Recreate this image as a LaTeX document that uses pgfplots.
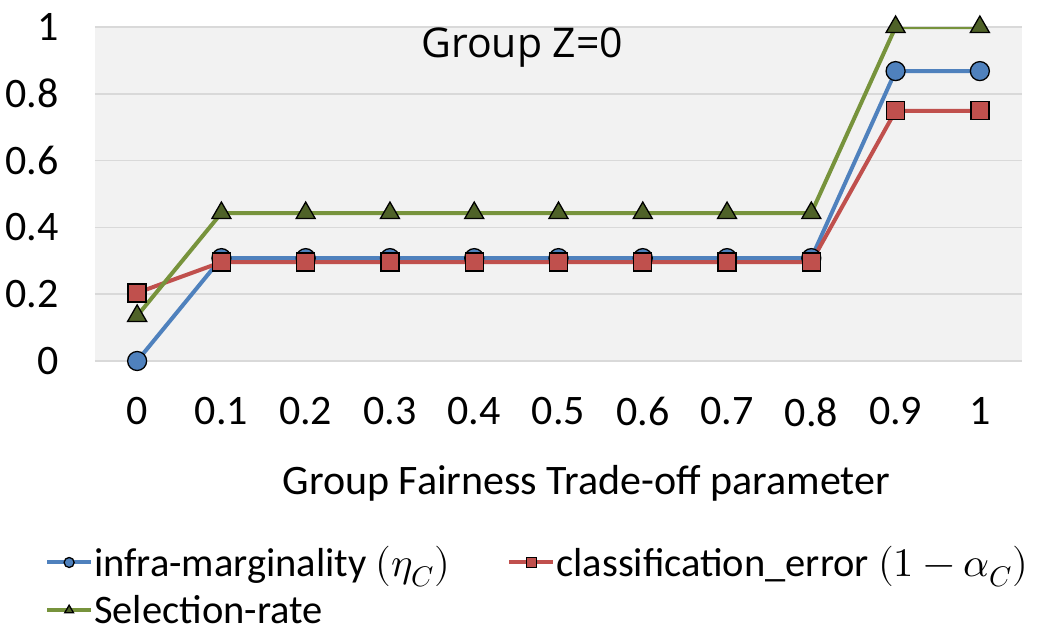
\documentclass[border=0pt]{standalone}
\usepackage{pgfplots}
\pgfplotsset{compat=1.18}
\usepackage{fontspec}
\usepackage{unicode-math}
\setmathfont{Latin Modern Math}
\setmainfont{Carlito}
\newfontfamily\titlefont{Open Sans}
\definecolor{cblue}{HTML}{4F81BD}
\definecolor{cred}{HTML}{C0504D}
\definecolor{cgreen}{HTML}{77933C}
\definecolor{cdgreen}{HTML}{4F6228}
\definecolor{bggray}{HTML}{F2F2F2}
\definecolor{gridgray}{HTML}{D9D9D9}
\begin{document}
\begin{tikzpicture}
\useasboundingbox (-95pt,-282pt) rectangle (952pt,361pt);
\begin{axis}[
  at={(0pt,0pt)}, anchor=south west,
  scale only axis, width=927pt, height=334pt,
  xmin=-0.5, xmax=10.5, ymin=0, ymax=1,
  axis background/.style={fill=bggray},
  axis line style={draw=none},
  major tick length=0pt,
  ytick={0,0.2,0.4,0.6,0.8,1},
  yticklabels={0,0.2,0.4,0.6,0.8,1},
  xtick={0,1,2,3,4,5,6,7,8,9,10},
  xticklabels={0,0.1,0.2,0.3,0.4,0.5,0.6,0.7,0.8,0.9,1},
  ymajorgrids, grid style={gridgray, line width=1.5pt},
  tick label style={font=\fontsize{42}{46}\selectfont, text=black},
  yticklabel style={anchor=east, xshift=-33pt},
  xticklabel style={anchor=north, yshift=-33pt},
  xlabel={Group Fairness Trade-off parameter},
  xlabel style={at={(axis description cs:0.53,0)}, anchor=center, yshift=-122pt, font=\fontsize{42}{46}\selectfont},
  legend style={at={(axis description cs:-0.054,-0.552)}, anchor=north west, draw=none, fill=none,
    font=\fontsize{40.5}{44}\selectfont, legend columns=2,
    /tikz/every even column/.append style={column sep=56pt},
    /tikz/nodes={inner sep=1pt},
    row sep=15pt, inner sep=0pt},
  legend cell align=left,
  legend image code/.code={\draw[mark repeat=2,mark phase=2,mark size=5pt] plot coordinates {(0pt,0pt)(22pt,0pt)(44pt,0pt)};},
  every axis plot/.append style={line width=4pt},
]
\addplot[cblue, mark=*, mark size=9.5pt, mark options={solid, draw=black, line width=1.3pt, fill=cblue}] coordinates {
(0,0) (1,0.308) (2,0.308) (3,0.308) (4,0.308) (5,0.308) (6,0.308) (7,0.308) (8,0.308) (9,0.868) (10,0.868)};
\addlegendentry{infra-marginality $(\eta_C)$}
\addplot[cred, mark=square*, mark size=9pt, mark options={solid, draw=black, line width=1.3pt, fill=cred}] coordinates {
(0,0.204) (1,0.296) (2,0.296) (3,0.296) (4,0.296) (5,0.296) (6,0.296) (7,0.296) (8,0.296) (9,0.749) (10,0.749)};
\addlegendentry{classification\_error $(1-\alpha_C)$}
\addplot[cgreen, mark=triangle*, mark size=11pt, mark options={solid, draw=black, line width=1.3pt, fill=cdgreen}] coordinates {
(0,0.135) (1,0.443) (2,0.443) (3,0.443) (4,0.443) (5,0.443) (6,0.443) (7,0.443) (8,0.443) (9,1) (10,1)};
\addlegendentry{Selection-rate}
\node[font=\titlefont\fontsize{41}{46}\selectfont, anchor=center] at (axis description cs:0.461,0.937) {Group Z=0};
\end{axis}
\end{tikzpicture}
\end{document}
